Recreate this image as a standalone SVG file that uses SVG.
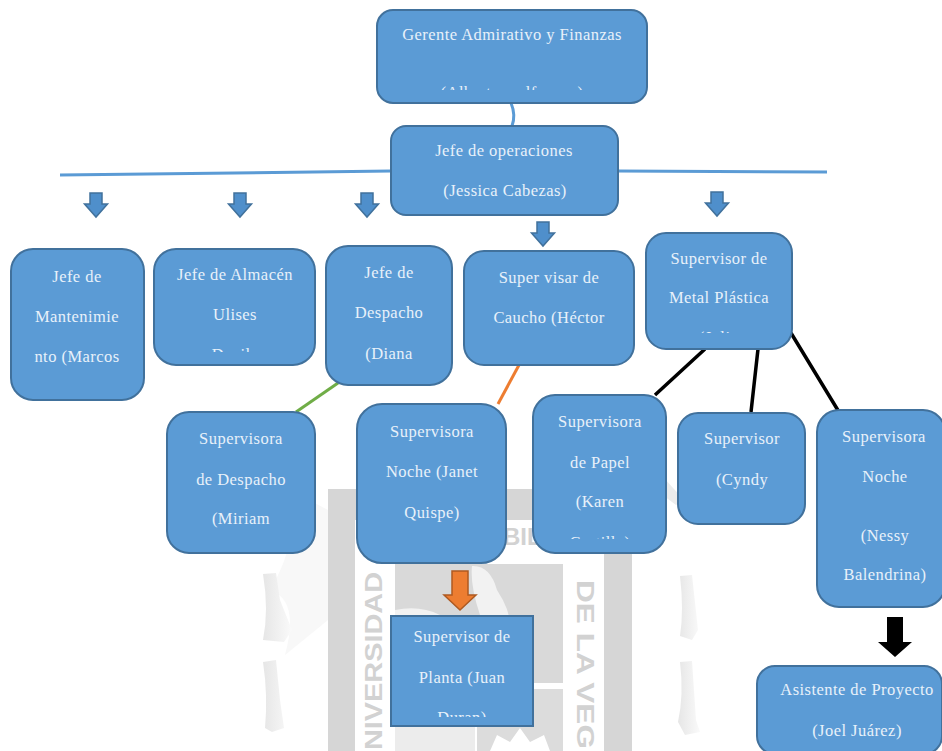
<svg xmlns="http://www.w3.org/2000/svg" width="942" height="751" viewBox="0 0 942 751">
<style>
.n{fill:#5b9bd5;stroke:#41719c;stroke-width:2}
.t{font-family:"Liberation Serif",serif;font-size:16.5px;letter-spacing:.45px;fill:#e8f1fa;text-anchor:middle}
.c{fill:none;stroke-width:3}
.a{fill:#4f8fcb;stroke:#41719c;stroke-width:1.5}
.w{font-family:"Liberation Sans",sans-serif;font-weight:bold;font-size:24px;fill:#d2d2d2}
</style>
<defs>
<clipPath id="c1"><rect x="380" y="14" width="264" height="76"/></clipPath>
<clipPath id="c2"><rect x="160" y="255" width="150" height="97"/></clipPath>
<clipPath id="c3"><rect x="540" y="400" width="120" height="139"/></clipPath>
<clipPath id="c4"><rect x="394" y="620" width="136" height="97"/></clipPath>
<clipPath id="c5"><rect x="650" y="237" width="138" height="96"/></clipPath>
<linearGradient id="sc" x1="0" x2="1" y1="0" y2="0"><stop offset="0" stop-color="#e6e6e6"/><stop offset="1" stop-color="#fafafa"/></linearGradient>
<path id="da" d="M-6 -12H6V-1H11.5L0 12L-11.5 -1H-6Z"/>
</defs>
<rect width="942" height="751" fill="#fff"/>
<g id="watermark">
<path d="M290 490L328 510V620L285 655Q300 600 270 590Q300 540 290 490Z" fill="#f8f8f8"/>
<path d="M664 478L684 500L676 505L664 496Z" fill="#ececec"/>
<path d="M328 489H632V751H604V520H355V751H328Z" fill="#d6d6d6"/>
<path d="M395 564H563V683H395Z" fill="#d9d9d9"/>
<path d="M472 566Q490 565 497 590Q510 610 510 625L520 680H495L480 615Q470 585 472 566ZM395 610Q420 605 440 615L445 625H395Z" fill="#f2f2f2"/>
<path d="M395 689H475V751H395Z" fill="#ececec"/>
<path d="M477 689H563V751H477Z" fill="#dcdcdc"/>
<path d="M490 751L497 735L510 742L520 728L530 742L544 735L550 751Z" fill="#fff"/>
<path d="M263 574L276 573L280 600L292 630L284 642L263 640Q269 610 263 574ZM263 662L276 660L280 700L284 728L272 732L265 728Q268 695 263 662Z" fill="url(#sc)"/>
<path d="M680 576L692 575L698 630L692 640L680 636Q684 610 680 576ZM680 662L692 661L696 720L700 732L685 735L678 722Q684 695 680 662Z" fill="url(#sc)"/>
<text class="w" transform="translate(382 750) rotate(-90)" textLength="178" lengthAdjust="spacingAndGlyphs">NIVERSIDAD</text>
<text class="w" transform="translate(577 580) rotate(90)" textLength="169" lengthAdjust="spacingAndGlyphs">DE LA VEG</text>
<text class="w" x="503" y="545">BIL</text>
</g>
<g id="connectors">
<path class="c" stroke="#5b9bd5" d="M60 175L391 171M618 171L827 172"/>
<path class="c" stroke="#5b9bd5" d="M511 103Q516 115 512 126"/>
<path class="c" stroke="#70ad47" d="M338 383L296 412"/>
<path class="c" stroke="#ed7d31" d="M519 365L498 404"/>
<path class="c" stroke="#000" stroke-width="3.5" style="stroke-width:3.5" d="M705 349L655 395M758 349L751 412M791 333L839 412"/>
</g>
<g id="arrows">
<use href="#da" class="a" x="96" y="205"/>
<use href="#da" class="a" x="240" y="205"/>
<use href="#da" class="a" x="367" y="205"/>
<use href="#da" class="a" x="543" y="234"/>
<use href="#da" class="a" x="717" y="204"/>
<path d="M452 571H468V595H476L460 610L444 595H452Z" fill="#ed7d31" stroke="#ae5a21" stroke-width="1.5"/>
<path d="M887 617H903V642H912L895 657L878 642H887Z" fill="#000"/>
</g>
<g id="n1"><rect class="n" x="377" y="10" width="270" height="93" rx="16"/><g clip-path="url(#c1)"><text class="t" x="512" y="40">Gerente Admirativo y Finanzas</text><text class="t" x="512" y="98">(Alberto wolfenson)</text></g></g>
<g id="n2"><rect class="n" x="391" y="126" width="227" height="89" rx="15"/><text class="t" x="504" y="156">Jefe de operaciones</text><text class="t" x="505" y="196">(Jessica Cabezas)</text></g>
<g id="n3"><rect class="n" x="11" y="249" width="133" height="151" rx="22"/><text class="t" x="77" y="282">Jefe de</text><text class="t" x="77" y="322">Mantenimie</text><text class="t" x="77" y="362">nto (Marcos</text></g>
<g id="n4"><rect class="n" x="154" y="249" width="161" height="116" rx="22"/><g clip-path="url(#c2)"><text class="t" x="235" y="280">Jefe de Almacén</text><text class="t" x="235" y="320">Ulises</text><text class="t" x="235" y="360">Davila</text></g></g>
<g id="n5"><rect class="n" x="326" y="246" width="126" height="139" rx="22"/><text class="t" x="389" y="278">Jefe de</text><text class="t" x="389" y="318">Despacho</text><text class="t" x="389" y="359">(Diana</text></g>
<g id="n6"><rect class="n" x="464" y="251" width="170" height="114" rx="20"/><text class="t" x="549" y="283">Super visar de</text><text class="t" x="549" y="323">Caucho (Héctor</text></g>
<g id="n7"><rect class="n" x="646" y="233" width="146" height="116" rx="20"/><g clip-path="url(#c5)"><text class="t" x="719" y="264">Supervisor de</text><text class="t" x="719" y="303">Metal Plástica</text><text class="t" x="719" y="343">(Julio</text></g></g>
<g id="n8"><rect class="n" x="167" y="412" width="148" height="141" rx="22"/><text class="t" x="241" y="444">Supervisora</text><text class="t" x="241" y="485">de Despacho</text><text class="t" x="241" y="524">(Miriam</text></g>
<g id="n9"><rect class="n" x="357" y="404" width="149" height="159" rx="25"/><text class="t" x="432" y="437">Supervisora</text><text class="t" x="432" y="477">Noche (Janet</text><text class="t" x="432" y="518">Quispe)</text></g>
<g id="n10"><rect class="n" x="533" y="395" width="133" height="158" rx="22"/><g clip-path="url(#c3)"><text class="t" x="600" y="427">Supervisora</text><text class="t" x="600" y="468">de Papel</text><text class="t" x="600" y="507">(Karen</text><text class="t" x="600" y="548">Castillo)</text></g></g>
<g id="n11"><rect class="n" x="678" y="413" width="127" height="111" rx="20"/><text class="t" x="742" y="444">Supervisor</text><text class="t" x="742" y="485">(Cyndy</text></g>
<g id="n12"><rect class="n" x="817" y="410" width="128" height="197" rx="22"/><text class="t" x="884" y="442">Supervisora</text><text class="t" x="885" y="482">Noche</text><text class="t" x="885" y="541">(Nessy</text><text class="t" x="885" y="580">Balendrina)</text></g>
<g id="n13"><rect class="n" x="391" y="616" width="142" height="110"/><g clip-path="url(#c4)"><text class="t" x="462" y="642">Supervisor de</text><text class="t" x="462" y="683">Planta (Juan</text><text class="t" x="462" y="723">Duran)</text></g></g>
<g id="n14"><rect class="n" x="757" y="666" width="185" height="88" rx="18"/><text class="t" x="857" y="695">Asistente de Proyecto</text><text class="t" x="857" y="736">(Joel Juárez)</text></g>
</svg>
